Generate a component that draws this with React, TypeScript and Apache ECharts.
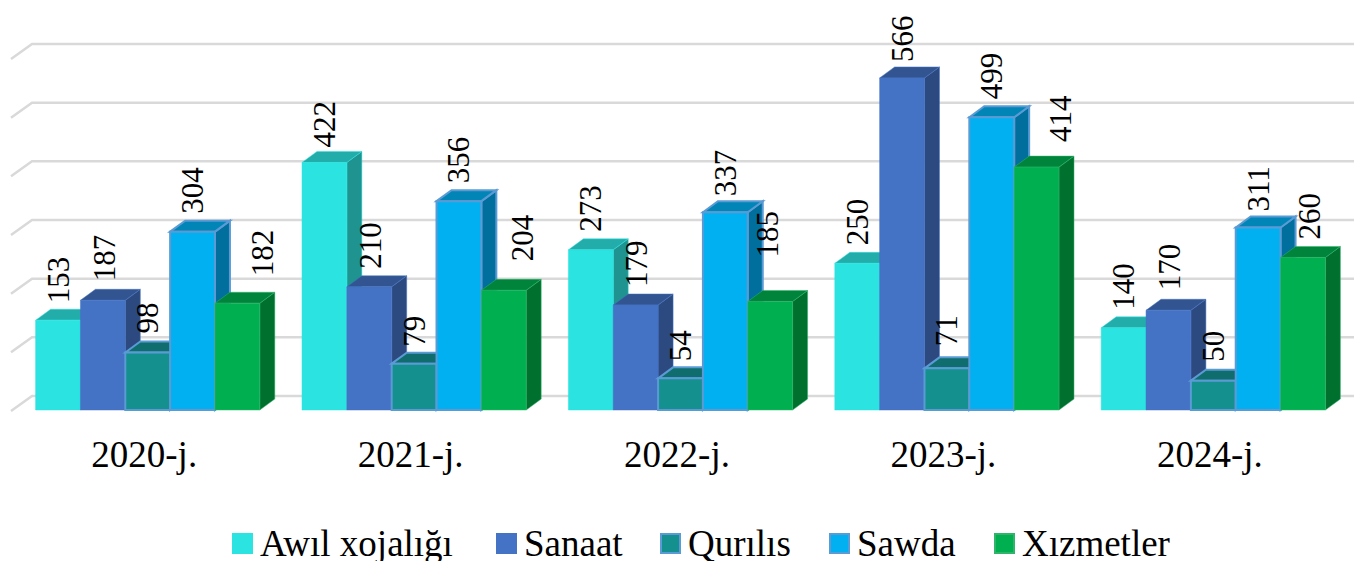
import React, { useEffect, useRef } from "react";
import * as echarts from "echarts";

const years = ["2020-j.", "2021-j.", "2022-j.", "2023-j.", "2024-j."];
const seriesNames = ["Awıl xojalığı", "Sanaat", "Qurılıs", "Sawda", "Xızmetler"];
const awil = [153, 422, 273, 250, 140];
const sanaat = [187, 210, 179, 566, 170];
const qurilis = [98, 79, 54, 71, 50];
const sawda = [304, 356, 337, 499, 311];
const xizmetler = [182, 204, 185, 414, 260];
const allValues = [awil, sanaat, qurilis, sawda, xizmetler];
const gridTicks = [0, 100, 200, 300, 400, 500, 600];

const faceColors = ["#2BE3E0", "#4472C4", "#14908F", "#00B0F0", "#00B050"];
const topColors = ["#23ADAA", "#325592", "#0F6E6D", "#0085B6", "#00843C"];
const sideColors = ["#1E938F", "#2C4A80", "#0C5E5D", "#006F9E", "#00702F"];
const borderColors = ["#2BE3E0", "#4472C4", "#5B9BD5", "#5B9BD5", "#2FB56A"];
const borderWidths = [0.5, 0.5, 2, 2, 0.5];
const legendLefts = [227, 491, 655, 824, 989];

// label nudges (dx, lift above the bar's front top), per series then per year
const labelDx = [
  [0, 0, 0, 0, 0],
  [2, 1, 1, 0, 1],
  [0, 0, 0, 0, 0],
  [0, 0, 0, 0, 0],
  [25, 19, -3, 24, 7],
];
const labelLift = [
  [17, 15, 18, 18, 18],
  [19, 18, 18, 16, 20],
  [19, 17, 17, 22, 19],
  [18, 18, 16, 18, 16],
  [27, 29, 44, 25, 18],
];

const DEPTH_X = 15;
const DEPTH_Y = 11;
const BAR_RATIO = 0.1683;
const GROUP_SHIFT = 3.5;

function makeBarSeries(s: number) {
  return {
    type: "custom",
    name: seriesNames[s],
    coordinateSystem: "cartesian2d",
    clip: false,
    silent: true,
    itemStyle: {
      color: faceColors[s],
      borderColor: borderColors[s],
      borderWidth: borderWidths[s],
    },
    encode: { x: 0, y: 1 },
    data: allValues[s].map((v, i) => [i, v]),
    renderItem: (_p: any, api: any) => {
      const cat = api.value(0);
      const val = api.value(1);
      const w = api.size([1, 0])[0] * BAR_RATIO;
      const top = api.coord([cat, val]);
      const base = api.coord([cat, 0]);
      const x0 = top[0] + GROUP_SHIFT - 2.5 * w + s * w;
      const x1 = x0 + w;
      const yT = top[1];
      const yB = base[1];
      const line = { stroke: borderColors[s], lineWidth: borderWidths[s] };
      const z = (s + 1) * 10;
      return {
        type: "group",
        children: [
          {
            type: "polygon",
            z2: z,
            shape: { points: [[x1, yT], [x1 + DEPTH_X, yT - DEPTH_Y], [x1 + DEPTH_X, yB - DEPTH_Y], [x1, yB]] },
            style: { fill: sideColors[s], ...line },
          },
          {
            type: "polygon",
            z2: z,
            shape: { points: [[x0, yT], [x0 + DEPTH_X, yT - DEPTH_Y], [x1 + DEPTH_X, yT - DEPTH_Y], [x1, yT]] },
            style: { fill: topColors[s], ...line },
          },
          {
            type: "rect",
            z2: z + 1,
            shape: { x: x0, y: yT, width: w, height: yB - yT },
            style: { fill: faceColors[s], ...line },
          },
          {
            type: "text",
            z2: 200,
            x: x0 + w / 2 + labelDx[s][cat],
            y: yT - labelLift[s][cat],
            rotation: Math.PI / 2,
            style: {
              legacy: false,
              text: String(val),
              fontSize: 31,
              fontFamily: "Liberation Serif",
              fill: "#000000",
              align: "left",
              verticalAlign: "middle",
            },
          },
        ],
      };
    },
  };
}

const gridSeries = {
  type: "custom",
  coordinateSystem: "cartesian2d",
  clip: false,
  silent: true,
  z: 1,
  encode: { x: 0, y: 1 },
  data: gridTicks.map((t) => [0, t]),
  renderItem: (p: any, api: any) => {
    const y = api.coord([0, api.value(1)])[1];
    const left = p.coordSys.x;
    const right = left + p.coordSys.width + 11;
    return {
      type: "polyline",
      shape: { points: [[left, y + 1], [left + 21, y - 14], [right, y - 14]] },
      style: { stroke: "#D9D9D9", lineWidth: 2.5, fill: "none" },
    };
  },
};

export default function App() {
  const ref = useRef<HTMLDivElement>(null);
  useEffect(() => {
    document.body.style.margin = "0";
    const chart = echarts.init(ref.current!, null, { renderer: "svg" });
    chart.setOption({
      animation: false,
      backgroundColor: "#FFFFFF",
      grid: { left: 11, width: 1332, top: 58, height: 352 },
      xAxis: {
        type: "category",
        data: years,
        axisLine: { show: false },
        axisTick: { show: false },
        axisLabel: { margin: 26, fontSize: 37, color: "#000000", fontFamily: "Liberation Serif" },
      },
      yAxis: {
        type: "value",
        min: 0,
        max: 600,
        interval: 100,
        axisLine: { show: false },
        axisTick: { show: false },
        axisLabel: { show: false },
        splitLine: { show: false },
      },
      legend: seriesNames.map((name, s) => ({
        data: [name],
        left: legendLefts[s],
        top: 520,
        itemWidth: 19,
        itemHeight: 19,
        icon: "rect",
        selectedMode: false,
        textStyle: { fontSize: 37, color: "#000000", fontFamily: "Liberation Serif", padding: [0, 0, 0, 3] },
      })),
      series: [gridSeries, ...seriesNames.map((_, s) => makeBarSeries(s))],
    });
    return () => chart.dispose();
  }, []);
  return <div ref={ref} style={{ width: 1354, height: 561 }} />;
}
